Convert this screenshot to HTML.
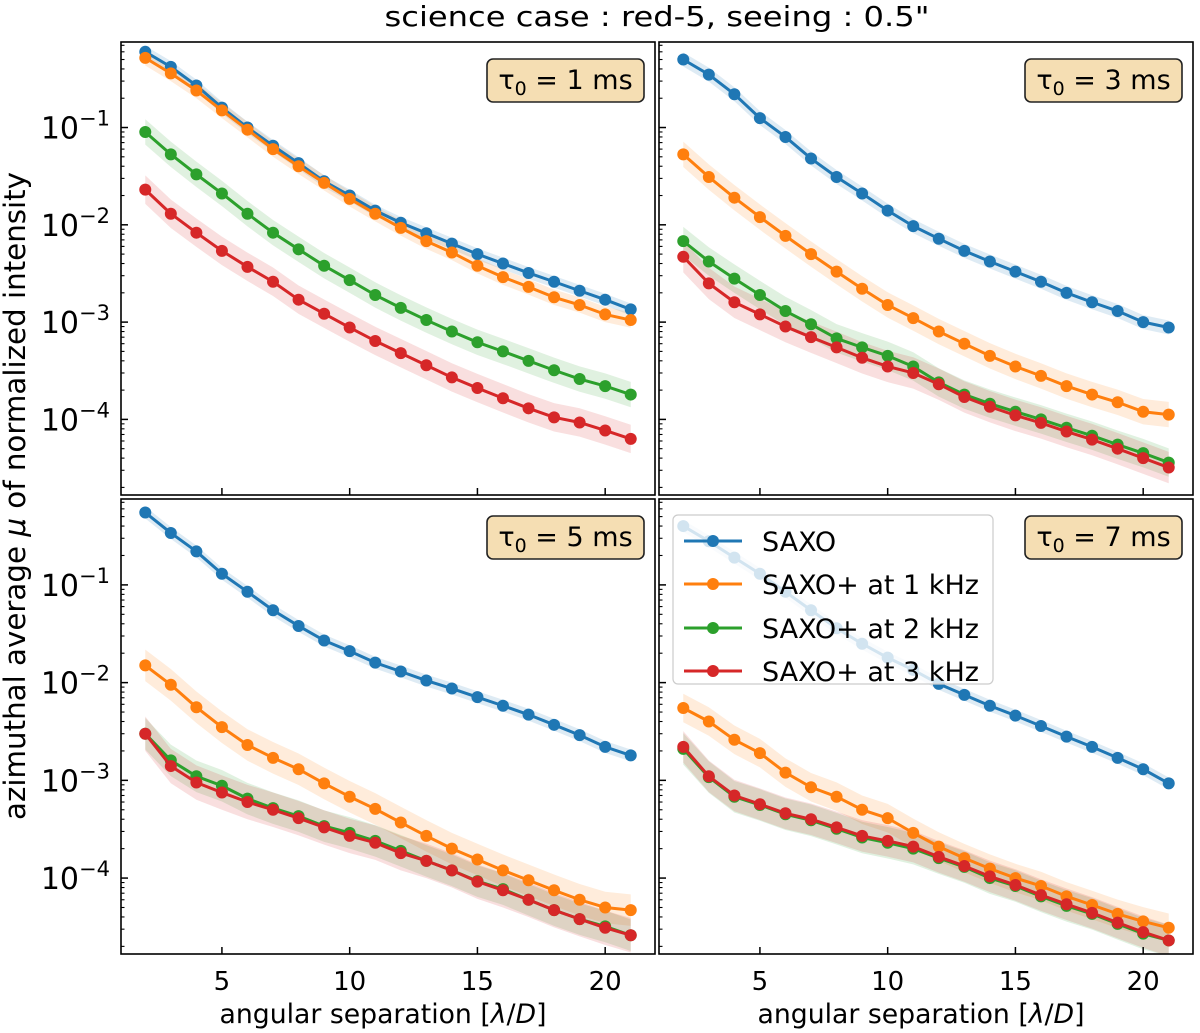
<!DOCTYPE html>
<html><head><meta charset="utf-8"><style>
html,body{margin:0;padding:0;background:#fff;}
svg{display:block;font-family:"DejaVu Sans","Liberation Sans",sans-serif;}
</style></head><body>
<svg id="fig" width="1200" height="1033" viewBox="0 0 1200 1033" xmlns="http://www.w3.org/2000/svg">
<text x="657" y="26" font-size="28" text-anchor="middle" textLength="545" lengthAdjust="spacingAndGlyphs">science case : red-5, seeing : 0.5"</text>
<text transform="translate(25,496) rotate(-90)" font-size="29" text-anchor="middle" textLength="648" lengthAdjust="spacingAndGlyphs">azimuthal average <tspan font-style="italic">μ</tspan> of normalized intensity</text>
</svg>
<script>
const xs = [2,3,4,5,6,7,8,9,10,11,12,13,14,15,16,17,18,19,20,21];
const panelTitles = ["1","3","5","7"];
const seriesNames = ["SAXO","SAXO+ at 1 kHz","SAXO+ at 2 kHz","SAXO+ at 3 kHz"];
const colors = ["#1f77b4","#ff7f0e","#2ca02c","#d62728"];
const xTicks = [5,10,15,20];
const yTickExps = [-1,-2,-3,-4];
// tau0 = 1 ms
const p1Saxo = [0.6,0.42,0.27,0.16,0.1,0.065,0.043,0.028,0.02,0.014,0.0105,0.0082,0.0064,0.005,0.004,0.0032,0.0026,0.0021,0.0017,0.00135];
const p1K1 = [0.52,0.36,0.24,0.15,0.095,0.06,0.04,0.027,0.0185,0.013,0.0093,0.0068,0.0052,0.0038,0.0029,0.0023,0.0018,0.0015,0.0012,0.00105];
const p1K2 = [0.09,0.053,0.033,0.021,0.013,0.0083,0.0056,0.0038,0.0027,0.0019,0.0014,0.00105,0.0008,0.00062,0.0005,0.0004,0.00032,0.00026,0.00022,0.00018];
const p1K3 = [0.023,0.013,0.0083,0.0054,0.0037,0.0026,0.0017,0.00122,0.00088,0.00064,0.00048,0.00036,0.00027,0.00021,0.000165,0.00013,0.000105,0.000093,0.000077,0.000063];
// tau0 = 3 ms
const p3Saxo = [0.5,0.35,0.22,0.125,0.08,0.048,0.031,0.021,0.014,0.0097,0.0072,0.0054,0.0042,0.0033,0.0026,0.002,0.0016,0.0013,0.001,0.00088];
const p3K1 = [0.053,0.031,0.019,0.012,0.0077,0.005,0.0033,0.0022,0.0015,0.0011,0.0008,0.0006,0.00045,0.00035,0.00028,0.00022,0.00018,0.00015,0.00012,0.000112];
const p3K2 = [0.0068,0.0042,0.0028,0.0019,0.0013,0.00095,0.00068,0.00055,0.00045,0.00035,0.00024,0.00018,0.000145,0.00012,0.0001,0.000082,0.000068,0.000055,0.000045,0.000036];
const p3K3 = [0.0047,0.0025,0.0016,0.0012,0.0009,0.0007,0.00055,0.00043,0.00035,0.0003,0.00023,0.00017,0.000135,0.00011,0.000092,0.000075,0.000062,0.00005,0.00004,0.000032];
// tau0 = 5 ms
const p5Saxo = [0.55,0.34,0.22,0.13,0.085,0.055,0.038,0.027,0.021,0.016,0.013,0.0105,0.0087,0.0071,0.0058,0.0047,0.0037,0.0029,0.0022,0.0018];
const p5K1 = [0.015,0.0095,0.0056,0.0035,0.0023,0.0017,0.0013,0.00093,0.00068,0.00051,0.00037,0.00027,0.0002,0.000155,0.00012,0.000095,0.000075,0.00006,0.00005,0.000047];
const p5K2 = [0.003,0.0016,0.0011,0.00088,0.00065,0.00052,0.00043,0.00034,0.00029,0.00024,0.00019,0.00015,0.00012,0.000093,0.000077,0.00006,0.000047,0.000038,0.000032,0.000026];
const p5K3 = [0.003,0.0014,0.00095,0.00075,0.0006,0.0005,0.00041,0.00033,0.00027,0.00023,0.00018,0.00015,0.00012,0.000092,0.000075,0.00006,0.000047,0.000038,0.000031,0.000026];
// tau0 = 7 ms
const p7Saxo = [0.4,0.28,0.19,0.13,0.085,0.055,0.036,0.025,0.018,0.0135,0.0097,0.0075,0.0058,0.0046,0.0036,0.0028,0.0022,0.0017,0.0013,0.00093];
const p7K1 = [0.0055,0.004,0.0026,0.0019,0.0012,0.00085,0.00068,0.0005,0.00041,0.00029,0.00021,0.00016,0.000125,0.0001,0.000083,0.000065,0.000053,0.000043,0.000036,0.000031];
const p7K2 = [0.0021,0.00108,0.00068,0.00056,0.00045,0.00039,0.00032,0.00026,0.00023,0.0002,0.00016,0.00013,0.0001,0.000083,0.000065,0.000052,0.000043,0.000034,0.000027,0.000023];
const p7K3 = [0.0022,0.0011,0.0007,0.00057,0.00046,0.0004,0.00033,0.00027,0.00024,0.00021,0.000165,0.000133,0.000104,0.000085,0.000067,0.000054,0.000044,0.000035,0.000028,0.000023];
// multiplicative band half-widths per panel/series
const spread1 = [1.15,1.2,1.35,1.4];
const spread3 = [1.18,1.35,1.4,1.45];
const spread5 = [1.15,1.45,1.45,1.5];
const spread7 = [1.15,1.4,1.45,1.45];

const panelData = [[p1Saxo,p1K1,p1K2,p1K3],[p3Saxo,p3K1,p3K2,p3K3],[p5Saxo,p5K1,p5K2,p5K3],[p7Saxo,p7K1,p7K2,p7K3]];
const panelSpread = [spread1,spread3,spread5,spread7];
const boxes = [[121,42,655,495],[659,42,1193,495],[121,499,655,954],[659,499,1193,954]];
const XMIN=1.05, XMAX=21.95, LTOP=-0.121, LBOT=-4.777;
const NS="http://www.w3.org/2000/svg";
const svg=document.getElementById('fig');
function mk(tag,attrs,parent){const e=document.createElementNS(NS,tag);for(const k in attrs)e.setAttribute(k,attrs[k]);(parent||svg).appendChild(e);return e;}

boxes.forEach((b,pi)=>{
  const [x0,y0,x1,y1]=b;
  const sx=v=>x0+(v-XMIN)/(XMAX-XMIN)*(x1-x0);
  const sy=v=>y0+(LTOP-Math.log10(v))/(LTOP-LBOT)*(y1-y0);
  const g=mk('g',{});
  
  
  const clipId='clip'+pi;
  const cp=mk('clipPath',{id:clipId},g);mk('rect',{x:x0,y:y0,width:x1-x0,height:y1-y0},cp);
  const plot=mk('g',{'clip-path':'url(#'+clipId+')'},g);
  panelData[pi].forEach((ser,si)=>{
    const f=panelSpread[pi][si];
    let up=xs.map((x,i)=>sx(x)+','+sy(ser[i]*f)).join(' ');
    let lo=xs.map((x,i)=>sx(x)+','+sy(ser[i]/f)).reverse().join(' ');
    const band=mk('polygon',{points:up+' '+lo,fill:colors[si],'fill-opacity':0.15,stroke:'none'},plot);
    
    
  });
  panelData[pi].forEach((ser,si)=>{
    const line=mk('polyline',{points:xs.map((x,i)=>sx(x)+','+sy(ser[i])).join(' '),fill:'none',stroke:colors[si],'stroke-width':3,'stroke-linejoin':'round'},plot);
    
    
    xs.forEach((x,i)=>{
      const c=mk('circle',{cx:sx(x),cy:sy(ser[i]),r:6,fill:colors[si]},plot);
      
      
    });
  });
  for(let e=-5;e<=0;e++){for(let m=1;m<10;m++){const v=m*Math.pow(10,e);const y=sy(v);if(y<y0||y>y1)continue;
    mk('line',{x1:x0,x2:x0+(m==1?7:3.5),y1:y,y2:y,stroke:'#000','stroke-width':m==1?1.5:1.1},g);}}
  xTicks.forEach(t=>{mk('line',{x1:sx(t),x2:sx(t),y1:y1,y2:y1-7,stroke:'#000','stroke-width':1.5},g);});
  if(pi%2==0){yTickExps.forEach(ex=>{const t=mk('text',{x:x0-11,y:sy(Math.pow(10,ex))+11,'font-size':30,'text-anchor':'end'},g);
    
    
    t.innerHTML='10<tspan dy="-13" font-size="21">−'+(-ex)+'</tspan>';});}
  if(pi>=2){xTicks.forEach(tk=>{const t=mk('text',{x:sx(tk),y:y1+36,'font-size':26,'text-anchor':'middle'},g);
    
    
    t.textContent=tk;});
    const xl=mk('text',{x:(x0+x1)/2-5,y:1023,'font-size':27,'text-anchor':'middle',textLength:327,lengthAdjust:'spacingAndGlyphs'},g);
    
    
    xl.innerHTML='angular separation [<tspan font-style="italic">λ</tspan>/<tspan font-style="italic">D</tspan>]';}
  mk('rect',{x:x0,y:y0,width:x1-x0,height:y1-y0,fill:'none',stroke:'#000','stroke-width':1.6},g);
  const bg=mk('g',{},g);
  
  
  mk('rect',{x:x1-168,y:y0+17,width:157,height:43,rx:6,fill:'#f5deb3',stroke:'#222','stroke-width':1.6},bg);
  const tt=mk('text',{x:x1-89.5,y:y0+47,'font-size':27,'text-anchor':'middle'},bg);
  tt.innerHTML='τ<tspan dy="6" font-size="19">0</tspan><tspan dy="-6"> = '+panelTitles[pi]+' ms</tspan>';
});
const lg=mk('g',{});


mk('rect',{x:673,y:515,width:320,height:169,rx:5,fill:'#fff','fill-opacity':0.8,stroke:'#ccc','stroke-width':1.2},lg);
const legY=[541,584,628,671];
seriesNames.forEach((n,i)=>{
  const e=mk('g',{},lg);
  
  
  mk('line',{x1:684,x2:742,y1:legY[i],y2:legY[i],stroke:colors[i],'stroke-width':3},e);
  mk('circle',{cx:713,cy:legY[i],r:6,fill:colors[i]},e);
  const t=mk('text',{x:762,y:legY[i]+10,'font-size':27},e);
  t.textContent=n;
});
</script>
</body></html>
